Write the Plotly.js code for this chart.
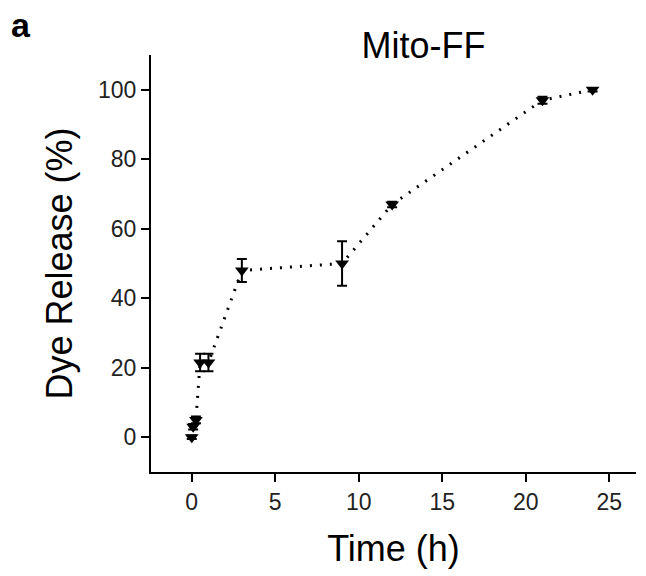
<!DOCTYPE html>
<html>
<head>
<meta charset="utf-8">
<script src="https://cdn.plot.ly/plotly-3.0.1.min.js"></script>
<style>html,body{margin:0;padding:0;background:#fff;}</style>
</head>
<body>
<div id="chart" style="width:646px;height:576px;"></div>
<script>
// Data
const timeH = [0, 0.083, 0.25, 0.5, 1, 3, 9, 12, 21, 24];
const dyeRelease = [0, 3, 5, 21.5, 21.5, 48, 50, 67, 97, 100];
const dyeError = [0.5, 0.8, 1, 2.5, 2.5, 3.3, 6.4, 0.8, 1, 0.5];
const xTicks = [0, 5, 10, 15, 20, 25];
const yTicks = [0, 20, 40, 60, 80, 100];

const trace = {
  x: timeH,
  y: dyeRelease,
  type: 'scatter',
  mode: 'lines+markers',
  line: {color: '#000', width: 3, dash: '2px,8px'},
  marker: {symbol: 'triangle-down', size: 12, color: '#000'},
  error_y: {type: 'data', array: dyeError, visible: true, color: '#000', thickness: 2, width: 5},
  showlegend: false
};

const tickFont = {family: '"Liberation Sans Narrow", "Liberation Sans", Arial, sans-serif', size: 23, color: '#222'};

const layout = {
  width: 646, height: 576,
  margin: {l: 151, r: 10, t: 55, b: 104, pad: 0},
  paper_bgcolor: '#fff', plot_bgcolor: '#fff',
  title: {
    text: 'Mito-FF',
    font: {family: '"Liberation Sans", Arial, sans-serif', size: 36, color: '#000'},
    x: 0.562, xanchor: 'center', xref: 'paper',
    y: 0.922, yanchor: 'middle', yref: 'container'
  },
  xaxis: {
    range: [-2.44, 26.6],
    tickvals: xTicks, ticktext: xTicks.map(String),
    ticks: 'outside', ticklen: 8, tickwidth: 2, tickcolor: '#000',
    showline: true, linecolor: '#000', linewidth: 2,
    showgrid: false, zeroline: false,
    tickfont: tickFont,
    title: {text: 'Time (h)', font: {family: '"Liberation Sans", Arial, sans-serif', size: 36, color: '#000'}, standoff: 22}
  },
  yaxis: {
    range: [-10, 110],
    tickvals: yTicks, ticktext: yTicks.map(String),
    ticks: 'outside', ticklen: 8, tickwidth: 2, tickcolor: '#000',
    showline: true, linecolor: '#000', linewidth: 2,
    showgrid: false, zeroline: false,
    tickfont: tickFont,
    title: {text: 'Dye Release (%)', font: {family: '"Liberation Sans", Arial, sans-serif', size: 36, color: '#000'}, standoff: 14}
  },
  annotations: [{
    text: '<b>a</b>', xref: 'paper', yref: 'paper',
    x: -0.268, y: 1.072, xanchor: 'center', yanchor: 'middle',
    showarrow: false,
    font: {family: '"Liberation Sans", Arial, sans-serif', size: 34, color: '#000'}
  }]
};

Plotly.newPlot('chart', [trace], layout, {displayModeBar: false, staticPlot: true});
</script>
</body>
</html>
